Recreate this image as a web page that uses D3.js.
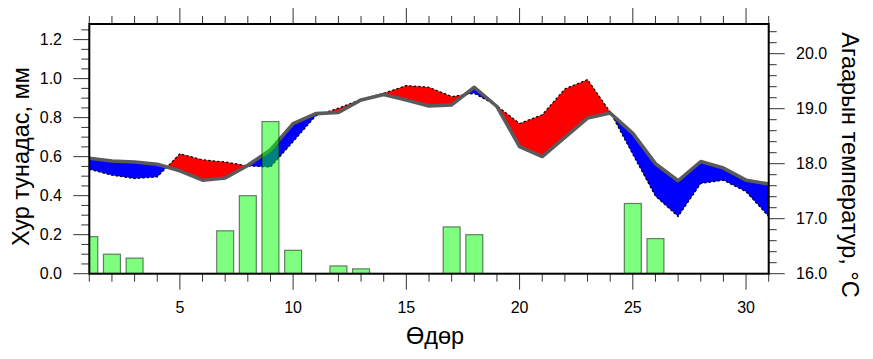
<!DOCTYPE html>
<html><head><meta charset="utf-8">
<script src="https://cdn.jsdelivr.net/npm/d3@7"></script>
<style>
html,body{margin:0;padding:0;background:#fff;}
text{font-family:"Liberation Sans",Arial,Helvetica,sans-serif;fill:#000;}
</style></head>
<body>
<svg id="c" width="873" height="359"></svg>
<script>
// ---- data ----
const days = d3.range(1, 32);
const precip = [0.19,0.10,0.08,0,0,0,0.22,0.40,0.78,0.12,0,0.04,0.025,0,0,0,0.24,0.20,0,0,0,0,0,0,0.36,0.18,0,0,0,0,0];
const tempObs = [18.10,18.05,18.03,17.99,17.87,17.70,17.74,17.97,18.25,18.73,18.91,18.93,19.16,19.26,19.16,19.05,19.07,19.39,19.04,18.31,18.13,18.48,18.83,18.92,18.55,18.00,17.69,18.04,17.92,17.70,17.63];
const tempNorm = [17.90,17.79,17.73,17.76,18.18,18.07,18.03,17.96,17.94,18.40,18.87,19.01,19.17,19.28,19.42,19.39,19.22,19.28,19.05,18.73,18.89,19.36,19.53,18.94,18.17,17.41,17.04,17.64,17.70,17.49,17.04];
const precipTicks = [0,0.2,0.4,0.6,0.8,1.0,1.2];
const tempTicks = [16,17,18,19,20];
const dayTicks = [5,10,15,20,25,30];
const xTitle = "Өдөр";
const yLeftTitle = "Хур тунадас, мм";
const yRightTitle = "Агаарын температур, °C";

// ---- layout ----
const L = 89.3, R = 768.7, T = 24, B = 273.7;
const svg = d3.select("#c");
const x = d3.scaleLinear().domain([1, 31]).range([L, R]);
const yP = d3.scaleLinear().domain([0, 1.28]).range([B, T]);
const yT = d3.scaleLinear().domain([16, 20.54]).range([B, T]);

svg.append("defs").append("clipPath").attr("id","plotclip")
  .append("rect").attr("x",L).attr("y",T).attr("width",R-L).attr("height",B-T);

const plot = svg.append("g").attr("clip-path","url(#plotclip)");

// fill between curves with crossing points
const pts = [];
for (let i = 0; i < days.length; i++) {
  pts.push({d: days[i], g: tempObs[i], n: tempNorm[i]});
  if (i < days.length - 1) {
    const d0 = tempNorm[i] - tempObs[i], d1 = tempNorm[i+1] - tempObs[i+1];
    if (d0 * d1 < 0) {
      const t = d0 / (d0 - d1);
      const g = tempObs[i] + t * (tempObs[i+1] - tempObs[i]);
      pts.push({d: days[i] + t, g: g, n: g});
    }
  }
}
const redArea = d3.area().x(p => x(p.d)).y0(p => yT(p.g)).y1(p => yT(Math.max(p.n, p.g)));
const blueArea = d3.area().x(p => x(p.d)).y0(p => yT(p.g)).y1(p => yT(Math.min(p.n, p.g)));
plot.append("path").attr("d", redArea(pts)).attr("fill", "#ff0000");
plot.append("path").attr("d", blueArea(pts)).attr("fill", "#0000ff");

const line = d3.line().x((d, i) => x(days[i])).y(d => yT(d));
plot.append("path").attr("d", line(tempNorm)).attr("fill","none")
  .attr("stroke","#000").attr("stroke-width",1.2).attr("stroke-dasharray","2.5,2");
plot.append("path").attr("d", line(tempObs)).attr("fill","none")
  .attr("stroke","#5a5a5a").attr("stroke-width",3.6).attr("stroke-linejoin","round");

// bars
const bw = 0.75 * (x(2) - x(1));
plot.append("g").selectAll("rect").data(days.filter((d, i) => precip[i] > 0))
  .join("rect")
  .attr("x", d => x(d) - bw / 2)
  .attr("width", bw)
  .attr("y", d => yP(precip[d - 1]))
  .attr("height", d => yP(0) - yP(precip[d - 1]))
  .attr("fill", "#00ff00").attr("fill-opacity", 0.5)
  .attr("stroke", "#000").attr("stroke-opacity", 0.5).attr("stroke-width", 1.2);

// axes ticks
const tickCol = "#333";
const g = svg.append("g").attr("stroke", tickCol).attr("stroke-width", 1);
days.forEach(d => {
  const len = dayTicks.includes(d) ? 16 : 8;
  g.append("line").attr("x1", x(d)).attr("x2", x(d)).attr("y1", B).attr("y2", B + len);
  g.append("line").attr("x1", x(d)).attr("x2", x(d)).attr("y1", T).attr("y2", T - len);
});
d3.range(0, 26).map(i => i * 0.05).forEach(v => {
  const major = Math.abs(v * 5 - Math.round(v * 5)) < 1e-6;
  const len = major ? 16 : 8;
  g.append("line").attr("x1", L).attr("x2", L - len).attr("y1", yP(v)).attr("y2", yP(v));
});
d3.range(0, 23).map(i => 16 + i * 0.2).forEach(v => {
  const major = Math.abs(v - Math.round(v)) < 1e-6;
  const len = major ? 16 : 8;
  g.append("line").attr("x1", R).attr("x2", R + len).attr("y1", yT(v)).attr("y2", yT(v));
});

// frame
svg.append("rect").attr("x", L).attr("y", T).attr("width", R - L).attr("height", B - T)
  .attr("fill", "none").attr("stroke", "#000").attr("stroke-width", 2);

// tick labels
const lab = svg.append("g").attr("font-size", 16);
precipTicks.forEach(v => lab.append("text").attr("x", 62).attr("y", yP(v) + 5.7)
  .attr("text-anchor", "end").text(d3.format(".1f")(v)));
tempTicks.forEach(v => lab.append("text").attr("x", 796).attr("y", yT(v) + 5.7)
  .attr("text-anchor", "start").text(d3.format(".1f")(v)));
dayTicks.forEach(v => lab.append("text").attr("x", x(v)).attr("y", 313)
  .attr("text-anchor", "middle").text(v));

// titles
svg.append("text").attr("x", 435).attr("y", 344).attr("text-anchor", "middle")
  .attr("font-size", 23.5).text(xTitle);
svg.append("text").attr("transform", "translate(28.5,156.5) rotate(-90)")
  .attr("text-anchor", "middle").attr("font-size", 23.5).text(yLeftTitle);
svg.append("text").attr("transform", "translate(841.5,165) rotate(90)")
  .attr("text-anchor", "middle").attr("font-size", 23.5).text(yRightTitle);
</script>
</body></html>
